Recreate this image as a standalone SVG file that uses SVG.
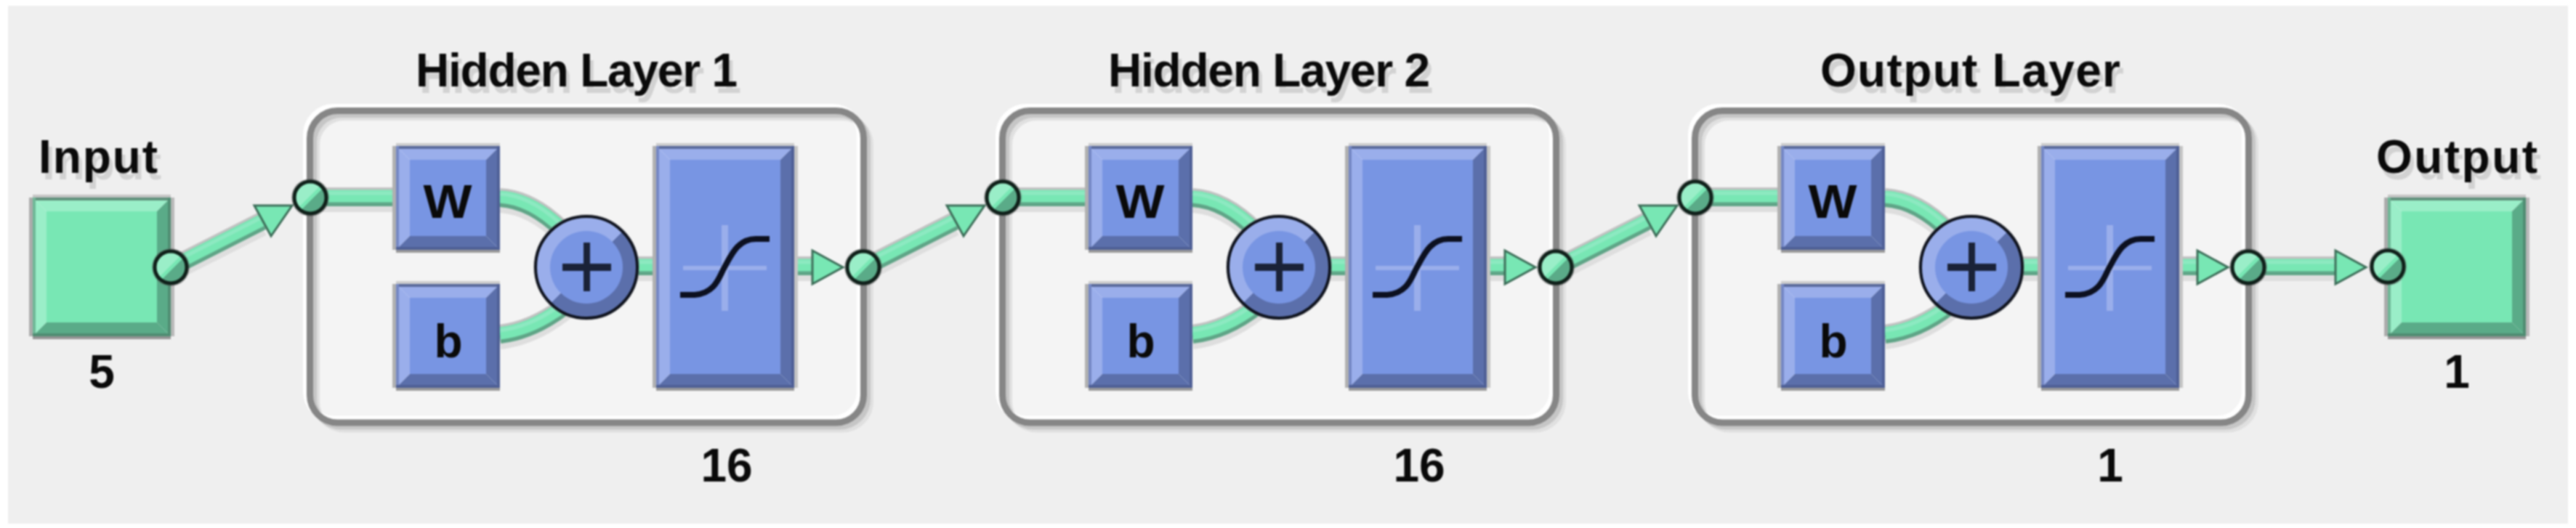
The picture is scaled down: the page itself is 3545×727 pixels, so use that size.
<svg xmlns="http://www.w3.org/2000/svg" width="3545" height="727" viewBox="0 0 3545 727">
<style>
.t{font-family:"Liberation Sans",Arial,sans-serif;font-weight:700;font-size:64px;fill:#0a0a0a}
.c{text-anchor:middle}
.title{filter:url(#ts)}
.bl{fill:#9aaeeb}.bd{fill:#5b6fab}.bf{fill:#7895e3}
.gl{fill:#9aeec8}.gd{fill:#5aab88}.gf{fill:#78e7b4}
.w0{stroke:#dedede;stroke-width:24}
.w1{stroke:#c2c2c2;stroke-width:22}
.w2{stroke:#5fa587;stroke-width:22}
.w3{stroke:#78e7b4;stroke-width:17}
.w4{stroke:#8de9c1;stroke-width:5}
.ah{fill:#78e7b4;stroke:#3d6e59;stroke-width:3;stroke-linejoin:miter}
.port{stroke:#10201a;stroke-width:5;fill:url(#pg)}
.frame{fill:none;stroke-width:9}
</style>
<defs>
<filter id="soft" filterUnits="userSpaceOnUse" x="0" y="0" width="3545" height="727" color-interpolation-filters="sRGB">
<feGaussianBlur stdDeviation="0.8"/>
</filter>
<filter id="ts" x="-5%" y="-10%" width="115%" height="140%" color-interpolation-filters="sRGB">
<feFlood flood-color="#d2d2d2" result="f"/>
<feComposite in="f" in2="SourceAlpha" operator="in" result="s"/>
<feOffset in="s" dx="5" dy="9" result="o"/>
<feMerge><feMergeNode in="o"/><feMergeNode in="SourceGraphic"/></feMerge>
</filter>
<linearGradient id="pg" x1="0" y1="0" x2="1" y2="1">
<stop offset="0" stop-color="#9aeec8"/><stop offset=".47" stop-color="#9aeec8"/>
<stop offset=".47" stop-color="#78e7b4"/><stop offset=".55" stop-color="#78e7b4"/>
<stop offset=".55" stop-color="#5aab88"/><stop offset="1" stop-color="#5aab88"/>
</linearGradient>
<linearGradient id="sg" x1="0" y1="0" x2="1" y2="1">
<stop offset="0" stop-color="#9aaeeb"/><stop offset=".5" stop-color="#9aaeeb"/>
<stop offset=".5" stop-color="#5b6fab"/><stop offset="1" stop-color="#5b6fab"/>
</linearGradient>
<g id="frame">
<rect x="426.5" y="152.5" width="762" height="429.5" rx="38" fill="#f4f4f4"/>
<rect class="frame" x="426.5" y="152.5" width="762" height="429.5" rx="38" stroke="#e0e0e0" transform="translate(9,9)"/>
<rect class="frame" x="426.5" y="152.5" width="762" height="429.5" rx="38" stroke="#c6c6c6" transform="translate(5,5)"/>
<rect class="frame" x="426.5" y="152.5" width="762" height="429.5" rx="38" stroke="#ffffff" transform="translate(-5,-5)"/>
<rect class="frame" x="426.5" y="152.5" width="762" height="429.5" rx="38" stroke="#868686"/>
</g>
<g id="wires" fill="none">
<path d="M427 271H545"/>
<path d="M688 272C722 274 750 292 776 318"/>
<path d="M688 460C722 456 750 442 778 420"/>
<path d="M870 366H905"/>
<path d="M1093 366H1122"/>
</g>
<g id="box-small">
<rect x="0" y="-4" width="143" height="4" fill="#cdcdcd"/>
<rect x="-5" y="0" width="5" height="143" fill="#b0b0b0"/>
<rect x="0" y="143" width="143" height="4" fill="#9a9a9a"/>
<polygon class="bl" points="0,0 143,0 124,19 19,19"/>
<polygon class="bl" points="0,0 19,19 19,124 0,143"/>
<polygon class="bd" points="143,0 143,143 124,124 124,19"/>
<polygon class="bd" points="0,143 143,143 124,124 19,124"/>
<rect class="bf" x="19" y="19" width="105" height="105"/>
<rect x="0" y="0" width="143" height="4" fill="#5a6a9c"/>
<rect x="0" y="0" width="4" height="143" fill="#7487c4"/>
<rect x="139" y="0" width="4" height="143" fill="#4f6096"/>
<rect x="0" y="139" width="143" height="4" fill="#4f6096"/>
</g>
<g id="box-tf">
<rect x="0" y="-4" width="190" height="4" fill="#cdcdcd"/>
<rect x="-5" y="0" width="5" height="333" fill="#b0b0b0"/>
<rect x="190" y="0" width="5" height="333" fill="#c4c4c4"/>
<rect x="0" y="333" width="190" height="4" fill="#9a9a9a"/>
<polygon class="bl" points="0,0 190,0 171,19 19,19"/>
<polygon class="bl" points="0,0 19,19 19,314 0,333"/>
<polygon class="bd" points="190,0 190,333 171,314 171,19"/>
<polygon class="bd" points="0,333 190,333 171,314 19,314"/>
<rect class="bf" x="19" y="19" width="152" height="295"/>
<rect x="0" y="0" width="190" height="4" fill="#5a6a9c"/>
<rect x="0" y="0" width="4" height="333" fill="#7487c4"/>
<rect x="186" y="0" width="4" height="333" fill="#4f6096"/>
<rect x="0" y="329" width="190" height="4" fill="#4f6096"/>
<rect x="37" y="165" width="115" height="6" fill="#9aaeeb"/>
<rect x="90" y="109" width="9" height="118" fill="#9aaeeb"/>
<path d="M33 205H53C82 203 87 179 94 167C103 151 112 128 137 128H156" fill="none" stroke="#0c1020" stroke-width="8"/>
</g>
<g id="box-io">
<rect x="0" y="-4" width="190" height="4" fill="#c4c4c4"/>
<rect x="-5" y="0" width="5" height="191" fill="#ababab"/>
<rect x="190" y="0" width="5" height="191" fill="#b8b8b8"/>
<rect x="0" y="191" width="190" height="4" fill="#949494"/>
<polygon class="gl" points="0,0 190,0 171,19 19,19"/>
<polygon class="gl" points="0,0 19,19 19,172 0,191"/>
<polygon class="gd" points="190,0 190,191 171,172 171,19"/>
<polygon class="gd" points="0,191 190,191 171,172 19,172"/>
<rect class="gf" x="19" y="19" width="152" height="153"/>
<rect x="0" y="0" width="190" height="4" fill="#5f907b"/>
<rect x="0" y="0" width="4" height="191" fill="#6eb796"/>
<rect x="186" y="0" width="4" height="191" fill="#4f8d72"/>
<rect x="0" y="187" width="190" height="4" fill="#4f8d72"/>
</g>
<g id="sum">
<circle r="73" fill="#8a8a8a" opacity=".45"/>
<circle r="70" fill="url(#sg)" stroke="#10141f" stroke-width="4"/>
<circle r="50" class="bf"/>
<rect x="-33" y="-5" width="67" height="10" fill="#1a2238"/>
<rect x="-4" y="-34" width="9" height="67" fill="#1a2238"/>
</g>
<g id="pt">
<circle r="26" fill="#555" opacity=".45"/>
<circle r="22" class="port"/>
</g>
<polygon id="ah-d" class="ah" points="350,283 402,283 373,325"/>
<polygon id="ah-h" class="ah" points="1118,345 1160,368 1118,391"/>
</defs>

<g filter="url(#soft)">
<rect width="3545" height="727" fill="#ffffff"/>
<rect x="11" y="8" width="3523" height="713" fill="#efefef"/>

<g id="layer-frames">
<use href="#frame"/>
<use href="#frame" transform="translate(953,0)"/>
<use href="#frame" transform="translate(1906,0)"/>
</g>

<g id="connectors">
<g class="w0" transform="translate(0,9)"><use href="#wires"/><use href="#wires" x="953"/><use href="#wires" x="1906"/><path fill="none" d="M235 368L361 304M1188 368L1314 304M2141 368L2267 304M3094 366H3215"/></g>
<g class="w1" transform="translate(0,-2)"><use href="#wires"/><use href="#wires" x="953"/><use href="#wires" x="1906"/><path fill="none" d="M235 368L361 304M1188 368L1314 304M2141 368L2267 304M3094 366H3215"/></g>
<g class="w2" transform="translate(0,2)"><use href="#wires"/><use href="#wires" x="953"/><use href="#wires" x="1906"/><path fill="none" d="M235 368L361 304M1188 368L1314 304M2141 368L2267 304M3094 366H3215"/></g>
<g class="w3" transform="translate(0,-1)"><use href="#wires"/><use href="#wires" x="953"/><use href="#wires" x="1906"/><path fill="none" d="M235 368L361 304M1188 368L1314 304M2141 368L2267 304M3094 366H3215"/></g>
<g class="w4" transform="translate(0,-5)"><use href="#wires"/><use href="#wires" x="953"/><use href="#wires" x="1906"/><path fill="none" d="M235 368L361 304M1188 368L1314 304M2141 368L2267 304M3094 366H3215"/></g>
<use href="#ah-d"/><use href="#ah-d" x="953"/><use href="#ah-d" x="1906"/>
<use href="#ah-h"/><use href="#ah-h" x="953"/><use href="#ah-h" x="1906"/><use href="#ah-h" x="2096"/>
</g>

<g id="node-input">
<text class="t title" x="53" y="238" textLength="164" lengthAdjust="spacing">Input</text>
<use href="#box-io" x="45" y="272"/>
<use href="#pt" x="235" y="368"/>
<text class="t c" x="140" y="534">5</text>
</g>

<g id="node-layer-1">
<text class="t title" x="572" y="119" textLength="443" lengthAdjust="spacing">Hidden Layer 1</text>
<use href="#pt" x="427" y="272"/>
<g id="l1-w"><use href="#box-small" x="545" y="201"/><text class="t c" x="616" y="300" textLength="67" lengthAdjust="spacingAndGlyphs">W</text></g>
<g id="l1-b"><use href="#box-small" x="545" y="391"/><text class="t c" x="617" y="492">b</text></g>
<use id="l1-sum" href="#sum" x="807" y="368"/>
<use id="l1-tf" href="#box-tf" x="903" y="201"/>
<use href="#pt" x="1188" y="368"/>
<text class="t c" x="1000" y="663">16</text>
</g>

<g id="node-layer-2">
<text class="t title" x="1525" y="119" textLength="443" lengthAdjust="spacing">Hidden Layer 2</text>
<use href="#pt" x="1380" y="272"/>
<g id="l2-w"><use href="#box-small" x="1498" y="201"/><text class="t c" x="1569" y="300" textLength="67" lengthAdjust="spacingAndGlyphs">W</text></g>
<g id="l2-b"><use href="#box-small" x="1498" y="391"/><text class="t c" x="1570" y="492">b</text></g>
<use id="l2-sum" href="#sum" x="1760" y="368"/>
<use id="l2-tf" href="#box-tf" x="1856" y="201"/>
<use href="#pt" x="2141" y="368"/>
<text class="t c" x="1953" y="663">16</text>
</g>

<g id="node-layer-3">
<text class="t title" x="2505" y="119" textLength="413" lengthAdjust="spacing">Output Layer</text>
<use href="#pt" x="2333" y="272"/>
<g id="l3-w"><use href="#box-small" x="2451" y="201"/><text class="t c" x="2522" y="300" textLength="67" lengthAdjust="spacingAndGlyphs">W</text></g>
<g id="l3-b"><use href="#box-small" x="2451" y="391"/><text class="t c" x="2523" y="492">b</text></g>
<use id="l3-sum" href="#sum" x="2713" y="368"/>
<use id="l3-tf" href="#box-tf" x="2809" y="201"/>
<use href="#pt" x="3094" y="368"/>
<text class="t c" x="2904" y="663">1</text>
</g>

<g id="node-output">
<text class="t title" x="3270" y="238" textLength="222" lengthAdjust="spacing">Output</text>
<use href="#box-io" x="3286" y="272"/>
<use href="#pt" x="3286" y="367"/>
<text class="t c" x="3381" y="534">1</text>
</g>
</g>
</svg>
